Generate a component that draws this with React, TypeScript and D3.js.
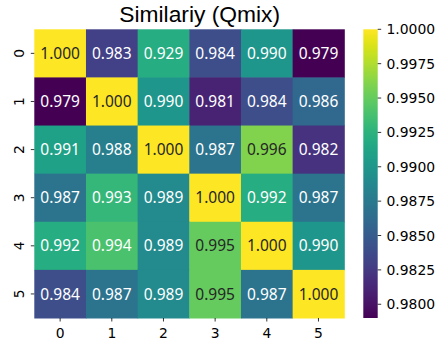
import React from "react";
import * as d3 from "d3";

const rowLabels = ["0", "1", "2", "3", "4", "5"];
const colLabels = ["0", "1", "2", "3", "4", "5"];
// values used for colour
const row0 = [1.0, 0.983, 0.992, 0.984, 0.99, 0.979];
const row1 = [0.979, 1.0, 0.99, 0.981, 0.984, 0.986];
const row2 = [0.991, 0.988, 1.0, 0.987, 0.996, 0.982];
const row3 = [0.987, 0.993, 0.989, 1.0, 0.992, 0.987];
const row4 = [0.992, 0.994, 0.989, 0.995, 1.0, 0.99];
const row5 = [0.984, 0.987, 0.989, 0.995, 0.987, 1.0];
const values = [row0, row1, row2, row3, row4, row5];
// annotation texts as printed
const annot0 = ["1.000", "0.983", "0.929", "0.984", "0.990", "0.979"];
const annot1 = ["0.979", "1.000", "0.990", "0.981", "0.984", "0.986"];
const annot2 = ["0.991", "0.988", "1.000", "0.987", "0.996", "0.982"];
const annot3 = ["0.987", "0.993", "0.989", "1.000", "0.992", "0.987"];
const annot4 = ["0.992", "0.994", "0.989", "0.995", "1.000", "0.990"];
const annot5 = ["0.984", "0.987", "0.989", "0.995", "0.987", "1.000"];
const annots = [annot0, annot1, annot2, annot3, annot4, annot5];
const cbTicks = [0.98, 0.9825, 0.985, 0.9875, 0.99, 0.9925, 0.995, 0.9975, 1.0];
const title = "Similariy (Qmix)";

const W = 439, H = 341;
const hm = { left: 34.3, right: 344.3, top: 29.3, bottom: 318 };
const cb = { left: 363.3, right: 377.7 };
const tickFont = "'DejaVu Sans', sans-serif";
const annotFont = "'Noto Sans', 'Open Sans', sans-serif";

function luminance(c: string) {
  const rgb = d3.rgb(c);
  const lin = (v: number) => {
    const s = v / 255;
    return s <= 0.03928 ? s / 12.92 : Math.pow((s + 0.055) / 1.055, 2.4);
  };
  return 0.2126 * lin(rgb.r) + 0.7152 * lin(rgb.g) + 0.0722 * lin(rgb.b);
}

export default function App() {
  const flat = values.flat();
  const vmin = d3.min(flat) as number;
  const vmax = d3.max(flat) as number;
  const color = d3.scaleSequential(d3.interpolateViridis).domain([vmin, vmax]);
  const x = d3.scaleBand().domain(colLabels).range([hm.left, hm.right]);
  const y = d3.scaleBand().domain(rowLabels).range([hm.top, hm.bottom]);
  const cy = d3.scaleLinear().domain([vmin, vmax]).range([hm.bottom, hm.top]);
  const stops = d3.range(0, 1.0001, 0.02);

  return (
    <svg width={W} height={H} style={{ position: "absolute", left: 0, top: 0, background: "#fff" }}>
      <defs>
        <linearGradient id="cbgrad" x1="0" y1="1" x2="0" y2="0">
          {stops.map((t, i) => (
            <stop key={i} offset={t} stopColor={d3.interpolateViridis(t)} />
          ))}
        </linearGradient>
      </defs>
      <text x={199.7} y={21.5} textAnchor="middle" fontFamily="'Liberation Sans', Arial, sans-serif" fontSize={22.8} fill="#000">
        {title}
      </text>
      {values.map((row, i) =>
        row.map((v, j) => {
          const c = color(v) as string;
          const txtCol = luminance(c) > 0.408 ? "#262626" : "#ffffff";
          const bx = x(colLabels[j]) as number;
          const by = y(rowLabels[i]) as number;
          return (
            <g key={`${i}-${j}`}>
              <rect x={bx} y={by} width={x.bandwidth() + 0.5} height={y.bandwidth() + 0.5} fill={c} />
              <text
                x={bx + x.bandwidth() / 2}
                y={by + y.bandwidth() / 2 + 5.6}
                textAnchor="middle"
                fontFamily={annotFont}
                fontSize={15.5}
                fill={txtCol}
              >
                {annots[i][j]}
              </text>
            </g>
          );
        })
      )}
      {colLabels.map((l) => {
        const cx = (x(l) as number) + x.bandwidth() / 2;
        return (
          <g key={`xt${l}`}>
            <line x1={cx} x2={cx} y1={hm.bottom} y2={hm.bottom + 3.5} stroke="#000" strokeWidth={0.8} />
            <text x={cx} y={337.5} textAnchor="middle" fontFamily={tickFont} fontSize={13.9} fill="#000">
              {l}
            </text>
          </g>
        );
      })}
      {rowLabels.map((l) => {
        const ry = (y(l) as number) + y.bandwidth() / 2;
        return (
          <g key={`yt${l}`}>
            <line x1={hm.left - 3.5} x2={hm.left} y1={ry} y2={ry} stroke="#000" strokeWidth={0.8} />
            <text
              transform={`translate(${24.2},${ry}) rotate(-90)`}
              textAnchor="middle"
              fontFamily={tickFont}
              fontSize={13.9}
              fill="#000"
            >
              {l}
            </text>
          </g>
        );
      })}
      <rect x={cb.left} y={hm.top} width={cb.right - cb.left} height={hm.bottom - hm.top} fill="url(#cbgrad)" />
      {cbTicks.map((t) => {
        const ty = cy(t);
        return (
          <g key={`cb${t}`}>
            <line x1={cb.right} x2={cb.right + 3.5} y1={ty} y2={ty} stroke="#000" strokeWidth={0.8} />
            <text x={386.5} y={ty} dominantBaseline="central" fontFamily={tickFont} fontSize={13.9} fill="#000">
              {d3.format(".4f")(t)}
            </text>
          </g>
        );
      })}
    </svg>
  );
}
